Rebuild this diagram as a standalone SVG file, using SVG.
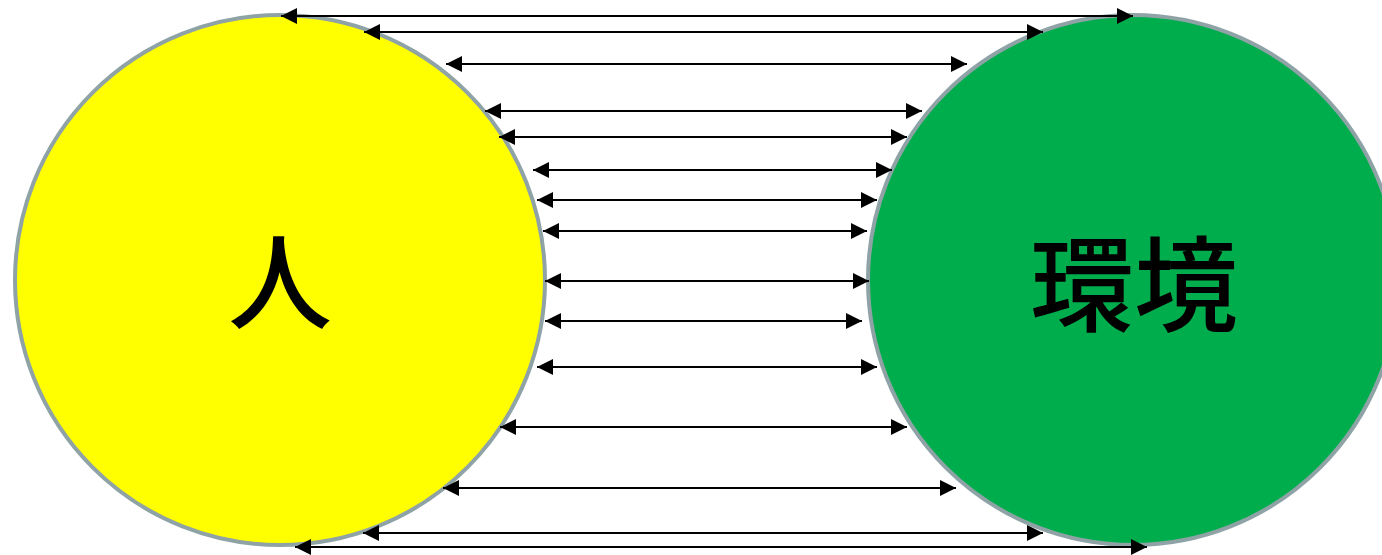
<svg xmlns="http://www.w3.org/2000/svg" width="1382" height="555" viewBox="0 0 1382 555">
<style>
.circle{stroke:#8FA3A6;stroke-width:4}
.lbl{font-family:"Noto Sans CJK JP","Noto Sans CJK SC",sans-serif;font-size:104px;font-weight:500;fill:#000;text-anchor:middle;dominant-baseline:central}
.conn line{stroke:#000;stroke-width:2;marker-start:url(#ah);marker-end:url(#ah)}
</style>
<defs>
<marker id="ah" markerUnits="userSpaceOnUse" markerWidth="17" markerHeight="16" refX="16" refY="8" orient="auto-start-reverse" viewBox="0 0 17 16">
<path d="M0,0 L16,8 L0,16 Z" fill="#000"/>
</marker>
</defs>
<rect width="1382" height="555" fill="#fff"/>
<g id="node-person">
<circle class="circle" cx="280" cy="280" r="265" fill="#FFFF00"/>
<text class="lbl" x="280" y="276">人</text>
</g>
<g id="node-environment">
<circle class="circle" cx="1133" cy="280" r="265" fill="#00AD4D"/>
<text class="lbl" x="1134" y="278">環境</text>
</g>
<g id="connectors" class="conn">
<line x1="281" y1="16" x2="1133" y2="16"/>
<line x1="364" y1="32" x2="1043" y2="32"/>
<line x1="446" y1="64" x2="967" y2="64"/>
<line x1="485" y1="111" x2="922" y2="111"/>
<line x1="499" y1="137" x2="907" y2="137"/>
<line x1="533" y1="170" x2="892" y2="170"/>
<line x1="537" y1="200" x2="877" y2="200"/>
<line x1="543" y1="231" x2="867" y2="231"/>
<line x1="545" y1="281" x2="869" y2="281"/>
<line x1="545" y1="321" x2="862" y2="321"/>
<line x1="537" y1="367" x2="877" y2="367"/>
<line x1="500" y1="427" x2="907" y2="427"/>
<line x1="443" y1="488" x2="956" y2="488"/>
<line x1="363" y1="533" x2="1043" y2="533"/>
<line x1="295" y1="547" x2="1147" y2="547"/>
</g>
</svg>
